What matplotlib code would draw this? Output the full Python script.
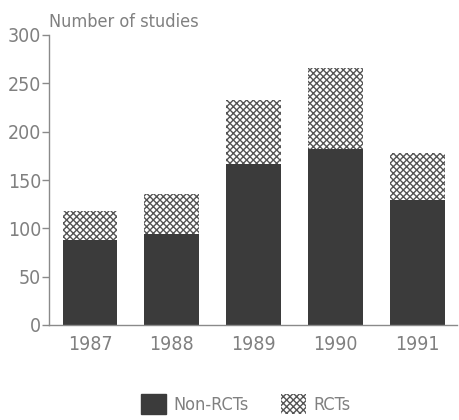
import matplotlib
matplotlib.use("Agg")
import matplotlib.pyplot as plt
from matplotlib.patches import Patch

years = ["1987", "1988", "1989", "1990", "1991"]
non_rcts = [88, 94, 167, 182, 129]
rcts = [30, 42, 66, 84, 49]
yticks = [0, 50, 100, 150, 200, 250, 300]

plt.rcParams['font.family'] = ['DejaVu Sans']
plt.rcParams['font.stretch'] = 'condensed'
plt.rcParams['hatch.linewidth'] = 1.0
plt.rcParams['hatch.color'] = '#555555'

text_color = '#808080'
axis_color = '#8a8a8a'
dark = '#3b3b3b'

fig = plt.figure(figsize=(4.59, 4.20), dpi=100)
ax = fig.add_axes([49/459, 95/420, (457-49)/459, 290/420])

x = list(range(len(years)))
width = 0.67
ax.bar(x, non_rcts, width, color=dark, edgecolor=dark, linewidth=0)
ax.bar(x, rcts, width, bottom=non_rcts, color='white', edgecolor='#555555',
       hatch='xxxxx', linewidth=0)

ax.set_xlim(-0.5, 4.48)
ax.set_ylim(0, 300)
ax.set_yticks(yticks)
ax.set_xticks(x)
ax.set_xticklabels(years)

for s in ['top', 'right']:
    ax.spines[s].set_visible(False)
for s in ['left', 'bottom']:
    ax.spines[s].set_color(axis_color)
    ax.spines[s].set_linewidth(1.0)

ax.tick_params(axis='y', direction='out', length=5, width=1.0, color=axis_color,
               labelcolor=text_color, labelsize=14, pad=0.5)
ax.tick_params(axis='x', length=0, labelcolor=text_color, labelsize=14, pad=7)

ax.text(0.0, 1.015, "Number of studies", transform=ax.transAxes,
        ha='left', va='bottom', color=text_color, fontsize=13)

handles = [Patch(facecolor=dark, edgecolor=dark, label='Non-RCTs'),
           Patch(facecolor='white', edgecolor='#555555', hatch='xxxxx', linewidth=0,
                 label='RCTs')]
leg = fig.legend(handles=handles, loc='center', bbox_to_anchor=(0.535, 0.038),
                 ncol=2, frameon=False, fontsize=13, handlelength=1.4,
                 handleheight=1.3, columnspacing=1.8, handletextpad=0.4)
for t in leg.get_texts():
    t.set_color(text_color)

fig.savefig("out.png", dpi=100)
